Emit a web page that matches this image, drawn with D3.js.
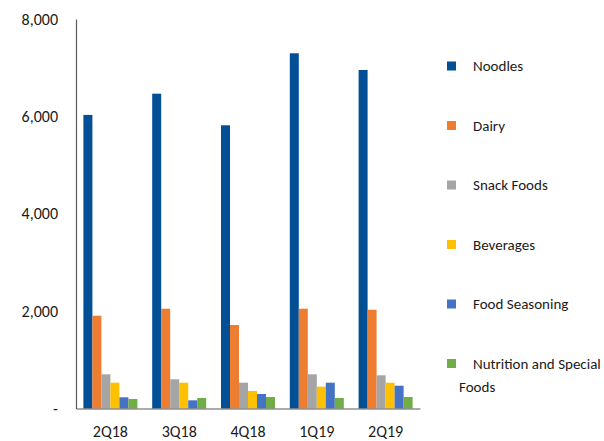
<!DOCTYPE html>
<html><head><meta charset="utf-8">
<script src="https://cdn.jsdelivr.net/npm/d3@7"></script>
<style>body{margin:0;background:#fff}svg{display:block}text{font-family:Carlito,'Liberation Sans Narrow','DejaVu Sans Condensed',sans-serif;fill:#1a1a1a}</style>
</head><body><svg id="c" width="604" height="441"></svg>
<script>
const categories = ["2Q18","3Q18","4Q18","1Q19","2Q19"];
const seriesNames = ["Noodles","Dairy","Snack Foods","Beverages","Food Seasoning","Nutrition and Special Foods"];
const noodles   = [6030, 6466, 5817, 7296, 6953];
const dairy     = [1906, 2050, 1715, 2050, 2029];
const snack     = [702, 600, 530, 702, 682];
const beverages = [530, 530, 360, 448, 530];
const seasoning = [230, 168, 298, 530, 468];
const nutrition = [195, 216, 236, 216, 236];
const yTicks = [0, 2000, 4000, 6000, 8000];
const colors = ["#034f96","#ed7d31","#a5a5a5","#ffc000","#4472c4","#70ad47"];
const series = [noodles, dairy, snack, beverages, seasoning, nutrition];

const svg = d3.select("#c");
const L = 76, R = 420, T = 19, B = 408.5;
const FS = 16, LFS = 15;
const x = d3.scaleBand().domain(categories).range([L, R]).paddingInner(0.215).paddingOuter(0.1075);
const xs = d3.scaleBand().domain(d3.range(series.length)).range([0, x.bandwidth()]);
const y = d3.scaleLinear().domain([0, 8000]).range([B, T]);

// bars
const g = svg.append("g");
categories.forEach((c, ci) => {
  series.forEach((s, si) => {
    g.append("rect")
      .attr("x", x(c) + xs(si))
      .attr("y", y(s[ci]))
      .attr("width", xs.bandwidth())
      .attr("height", y(0) - y(s[ci]))
      .attr("fill", colors[si]);
  });
});

// y axis
const ya = d3.axisLeft(y).tickValues(yTicks).tickSize(0).tickPadding(18)
  .tickFormat(d => d === 0 ? "-" : d3.format(",")(d));
const yg = svg.append("g").attr("transform", `translate(${L},0)`).call(ya);
yg.select(".domain").attr("stroke", "#595959").attr("stroke-width", 1.2);
yg.selectAll("text").attr("font-size", FS).attr("fill", "#1a1a1a");

// x axis
const xa = d3.axisBottom(x).tickSize(0).tickPadding(17);
const xg = svg.append("g").attr("transform", `translate(0,${B})`).call(xa);
xg.select(".domain").attr("stroke", "#595959").attr("stroke-width", 1.2);
xg.selectAll("text").attr("font-size", FS).attr("fill", "#1a1a1a");

// legend
const lg = svg.append("g");
seriesNames.forEach((n, i) => {
  const cy = 66 + i * 59.5;
  lg.append("rect").attr("x", 447).attr("y", cy - 4.5).attr("width", 9).attr("height", 9).attr("fill", colors[i]);
  if (n === "Nutrition and Special Foods") {
    lg.append("text").attr("x", 473).attr("y", cy).attr("dy", "0.35em").attr("font-size", LFS).text("Nutrition and Special");
    lg.append("text").attr("x", 459).attr("y", cy + 23.5).attr("dy", "0.35em").attr("font-size", LFS).text("Foods");
  } else {
    lg.append("text").attr("x", 473).attr("y", cy).attr("dy", "0.35em").attr("font-size", LFS).text(n);
  }
});
</script></body></html>
